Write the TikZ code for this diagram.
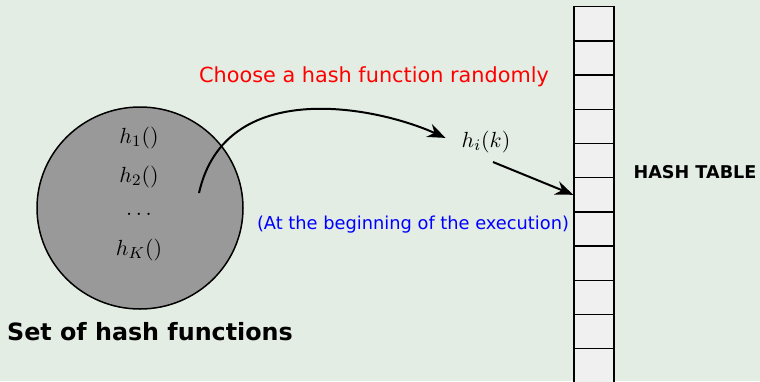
\documentclass[tikz,border=0pt]{standalone}
\usepackage{fontspec}
\setsansfont{DejaVu Sans}
\usetikzlibrary{arrows.meta,shapes.geometric}
\definecolor{bgcol}{RGB}{228,237,228}
\definecolor{setgray}{RGB}{153,153,153}
\definecolor{cellgray}{RGB}{240,240,240}
\tikzset{
    cell/.style={draw=black, fill=cellgray, line width=0.7pt, minimum width=20pt, minimum height=17.1pt, inner sep=0pt},
    arr/.style={-{Stealth[length=9pt,width=7pt]}, line width=1pt},
    fn/.style={font=\fontsize{11.3}{13}\selectfont},
}
\begin{document}
\begin{tikzpicture}[x=0.5pt, y=-0.5pt]
    \fill[bgcol] (0,0) rectangle (760,381);
    \useasboundingbox (0,0) rectangle (760,381);
    \clip (0,0) rectangle (760,381);
    % set of hash functions
    \node[ellipse, draw, line width=0.75pt, fill=setgray, minimum width=103pt, minimum height=101pt] (set) at (140,208) {};
    \foreach \y/\l/\n in {138/h_1()/h1, 177/h_2()/h2, 214/\dots/hdots, 250/h_K()/hK} {
        \node[fn] (\n) at (139,\y) {$\l$};
    }
    \node[font=\sffamily\bfseries\fontsize{11.9}{14}\selectfont] (setname) at (150,332) {Set of hash functions};
    % hash table
    \foreach \i in {1,...,11} {
        \node[cell] (c\i) at (594,{6.7+34.2*(\i-0.5)}) {};
    }
    \node[font=\sffamily\bfseries\fontsize{8.8}{10}\selectfont] (tname) at (695,172) {HASH TABLE};
    \node[fn] (hik) at (486,142) {$h_i(k)$};
    \node[text=red, font=\sffamily\fontsize{10.4}{12}\selectfont] (choose) at (374,77) {Choose a hash function randomly};
    \node[text=blue, font=\sffamily\fontsize{8.9}{11}\selectfont] (when) at (413,225) {(At the beginning of the execution)};
    \coordinate (pick) at (199,193);
    \draw[arr, shorten >=5pt] (pick) .. controls +(26,-116) and +(-80,-36) .. (hik.west);
    \draw[arr] ([shift={(7,2)}]hik.south) -- (c6.west);
\end{tikzpicture}
\end{document}
